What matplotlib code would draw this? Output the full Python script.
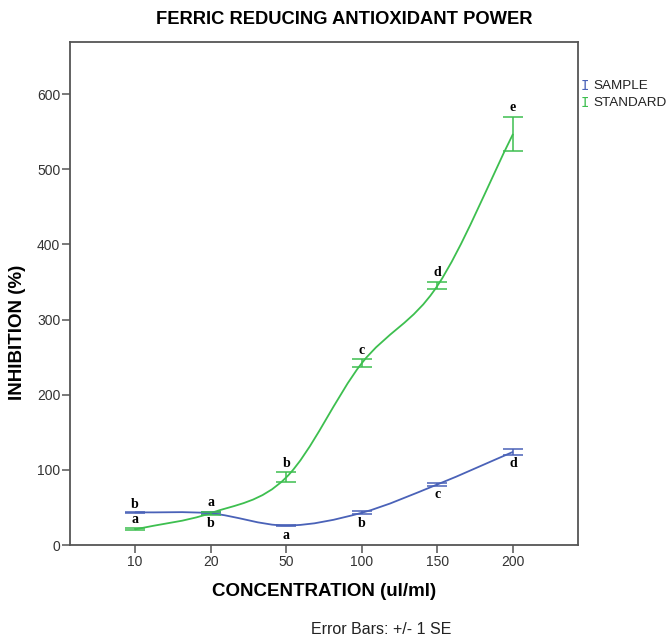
import numpy as np
import matplotlib
matplotlib.use('Agg')
import matplotlib.pyplot as plt
from matplotlib.path import Path
import matplotlib.patches as mpatches

# ── Data ───────────────────────────────────────────────────────────────────
concentrations = ['10', '20', '50', '100', '150', '200']
sample_mean    = [43.5, 42.2, 26.0, 43.0, 80.7, 124.0]
sample_se      = [1.0, 1.5, 1.0, 2.0, 1.5, 4.0]
sample_letters = ['b', 'b', 'a', 'b', 'c', 'd']
standard_mean  = [20.9, 42.5, 90.0, 242.0, 345.0, 547.0]
standard_se    = [1.5, 2.0, 6.7, 5.0, 5.0, 23.0]
standard_letters = ['a', 'a', 'b', 'c', 'd', 'e']

# ── Colors ─────────────────────────────────────────────────────────────────
COLOR_SAMPLE   = '#4a62b8'
COLOR_STANDARD = '#3dbf4f'
SPINE_COLOR    = '#555555'
SANS  = 'Liberation Sans'
SERIF = 'Liberation Serif'


def smooth_path(y):
    """Catmull-Rom style cubic curve through the points, as Bezier segments."""
    y = np.asarray(y, dtype=float)
    n = len(y)
    m = np.empty(n)
    m[1:-1] = (y[2:] - y[:-2]) / 2
    m[0] = y[1] - y[0]
    m[-1] = y[-1] - y[-2]
    verts = [(0, y[0])]
    codes = [Path.MOVETO]
    for i in range(n - 1):
        verts += [(i + 1 / 3, y[i] + m[i] / 3),
                  (i + 2 / 3, y[i + 1] - m[i + 1] / 3),
                  (i + 1, y[i + 1])]
        codes += [Path.CURVE4] * 3
    return Path(verts, codes)


fig = plt.figure(figsize=(6.66, 6.39), dpi=100)
ax = fig.add_axes([0.105, 0.147, 0.763, 0.787])

x = np.arange(len(concentrations))

for mean, se, color in ((sample_mean, sample_se, COLOR_SAMPLE),
                        (standard_mean, standard_se, COLOR_STANDARD)):
    ax.add_patch(mpatches.PathPatch(smooth_path(mean), facecolor='none',
                                    edgecolor=color, linewidth=1.3, zorder=3))
    ax.errorbar(x, mean, yerr=se, fmt='none', ecolor=color, elinewidth=1.1,
                capsize=7, capthick=1.1, zorder=4)

# significance letters
for i in x:
    top = standard_mean[i] + standard_se[i]
    ax.annotate(standard_letters[i], (i, top), xytext=(0, 6.5),
                textcoords='offset points', ha='center', va='center',
                fontsize=10, fontweight='bold', family=SERIF, color='black')
    if i == 0:
        pos, off = sample_mean[i] + sample_se[i], 5
    else:
        pos, off = sample_mean[i] - sample_se[i], -6.5
    ax.annotate(sample_letters[i], (i, pos), xytext=(0, off),
                textcoords='offset points', ha='center', va='center',
                fontsize=10, fontweight='bold', family=SERIF, color='black')

ax.set_xlim(-0.86, 5.86)
ax.set_ylim(0, 669)
ax.set_xticks(x)
ax.set_xticklabels(concentrations)
ax.set_yticks(np.arange(0, 700, 100))
ax.tick_params(direction='out', length=5.5, width=1.1, color=SPINE_COLOR,
               labelsize=10, labelcolor='#333333', pad=1.5)
for lbl in ax.get_xticklabels() + ax.get_yticklabels():
    lbl.set_family(SANS)
for spine in ax.spines.values():
    spine.set_edgecolor(SPINE_COLOR)
    spine.set_linewidth(1.3)

fig.text(324 / 666, 1 - 592 / 639, 'CONCENTRATION (ul/ml)', ha='center',
         va='center', fontsize=13.5, fontweight='bold', family=SANS)
fig.text(18 / 666, 1 - 332 / 639, 'INHIBITION (%)', ha='center',
         va='center', rotation=90, fontsize=13.5, fontweight='bold',
         family=SANS)

fig.text(344 / 666, 1 - 19 / 639, 'FERRIC REDUCING ANTIOXIDANT POWER',
         ha='center', va='center', fontsize=13.2, fontweight='bold',
         family=SANS)
fig.text(381 / 666, 1 - 629 / 639, 'Error Bars: +/- 1 SE', ha='center',
         va='center', fontsize=11.5, family=SANS, color='#222222')

# legend (SPSS style "I" glyphs)
for j, (name, color) in enumerate((('SAMPLE', COLOR_SAMPLE),
                                   ('STANDARD', COLOR_STANDARD))):
    yy = 1 - (86 + 17 * j) / 639
    fig.text(581 / 666, yy, 'I', ha='left', va='center', fontsize=10,
             family='DejaVu Sans Mono', color=color)
    fig.text(593 / 666, yy, name, ha='left', va='center', fontsize=9.7,
             family=SANS, color='#222222')

fig.savefig('out.png', dpi=100)
